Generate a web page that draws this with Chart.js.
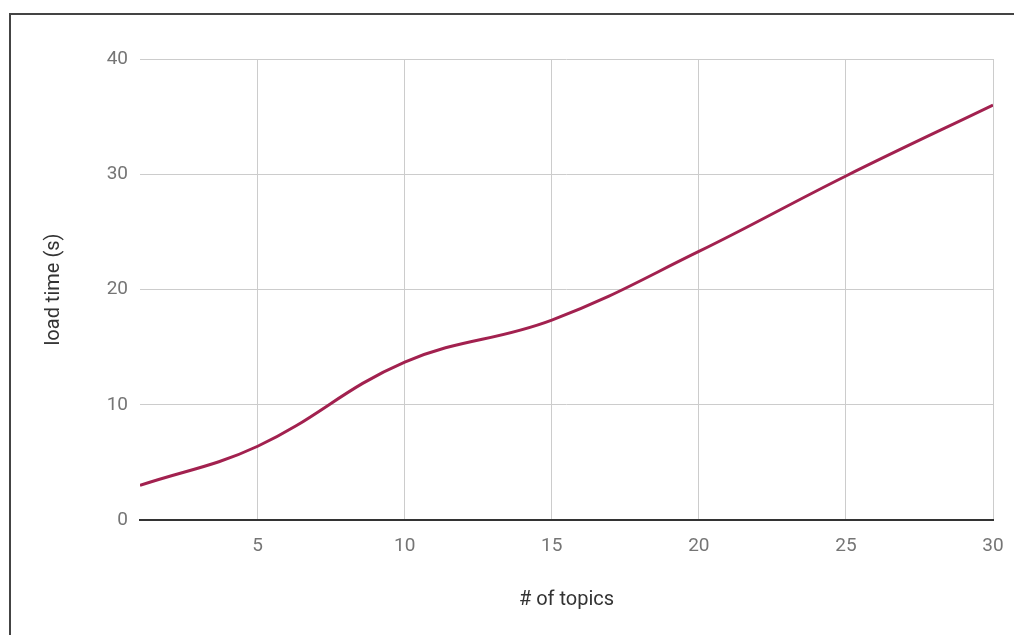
<!DOCTYPE html>
<html>
<head>
<meta charset="utf-8">
<script src="https://cdn.jsdelivr.net/npm/chart.js@4/dist/chart.umd.min.js"></script>
<style>
  html, body { margin: 0; padding: 0; background: #fff; }
  #wrap { position: relative; width: 1014px; height: 635px; }
  #frame {
    position: absolute; left: 9px; top: 13px; width: 1005px; height: 622px;
    border-top: 2px solid #444; border-left: 2px solid #444; box-sizing: border-box;
    pointer-events: none;
  }
  canvas { display: block; }
</style>
</head>
<body>
<div id="wrap">
  <canvas id="chart" width="1014" height="635"></canvas>
  <div id="frame"></div>
</div>
<script>
// Load time measured for a growing number of topics
const topics = [1, 5, 10, 15, 20, 25, 30];
const loadTimes = [3.0, 6.4, 13.7, 17.35, 23.3, 29.85, 36.0];
const xTicks = [5, 10, 15, 20, 25, 30];
const yTicks = [0, 10, 20, 30, 40];

const FONT = 'Roboto, "Noto Sans", sans-serif';

new Chart(document.getElementById('chart'), {
  type: 'line',
  data: {
    datasets: [{
      label: 'load time (s)',
      data: topics.map((t, i) => ({ x: t, y: loadTimes[i] })),
      borderColor: '#A2214F',
      borderWidth: 3,
      pointRadius: 0,
      tension: 0.4,
      fill: false
    }]
  },
  options: {
    responsive: false,
    animation: false,
    layout: { padding: { left: 0, top: 59, right: 21, bottom: 0 } },
    plugins: { legend: { display: false }, tooltip: { enabled: false } },
    scales: {
      x: {
        type: 'linear',
        min: 1,
        max: 30,
        afterBuildTicks: (scale) => { scale.ticks = xTicks.map(v => ({ value: v })); },
        afterFit: (scale) => {
          scale.height = 115;
          scale.paddingLeft = 0;
          scale.paddingRight = 0;
        },
        grid: { color: '#cccccc', lineWidth: 1, drawTicks: false },
        border: { display: true, color: '#333333', width: 2 },
        ticks: {
          color: '#757575',
          font: { family: FONT, size: 19 },
          padding: 15,
          maxRotation: 0
        },
        title: {
          display: true,
          text: '# of topics',
          color: '#333333',
          font: { family: FONT, size: 20 },
          padding: { top: 0, bottom: 23 }
        }
      },
      y: {
        min: 0,
        max: 40,
        afterBuildTicks: (scale) => { scale.ticks = yTicks.map(v => ({ value: v })); },
        afterFit: (scale) => { scale.width = 140; },
        grid: {
          color: (ctx) => ctx.tick && ctx.tick.value === 0 ? 'rgba(0,0,0,0)' : '#cccccc',
          lineWidth: 1,
          drawTicks: false
        },
        border: { display: false },
        ticks: {
          color: '#757575',
          font: { family: FONT, size: 19 },
          padding: 12
        },
        title: {
          display: true,
          text: 'load time (s)',
          color: '#333333',
          font: { family: FONT, size: 20 },
          padding: { top: 42, bottom: 0 }
        }
      }
    }
  }
});
</script>
</body>
</html>
